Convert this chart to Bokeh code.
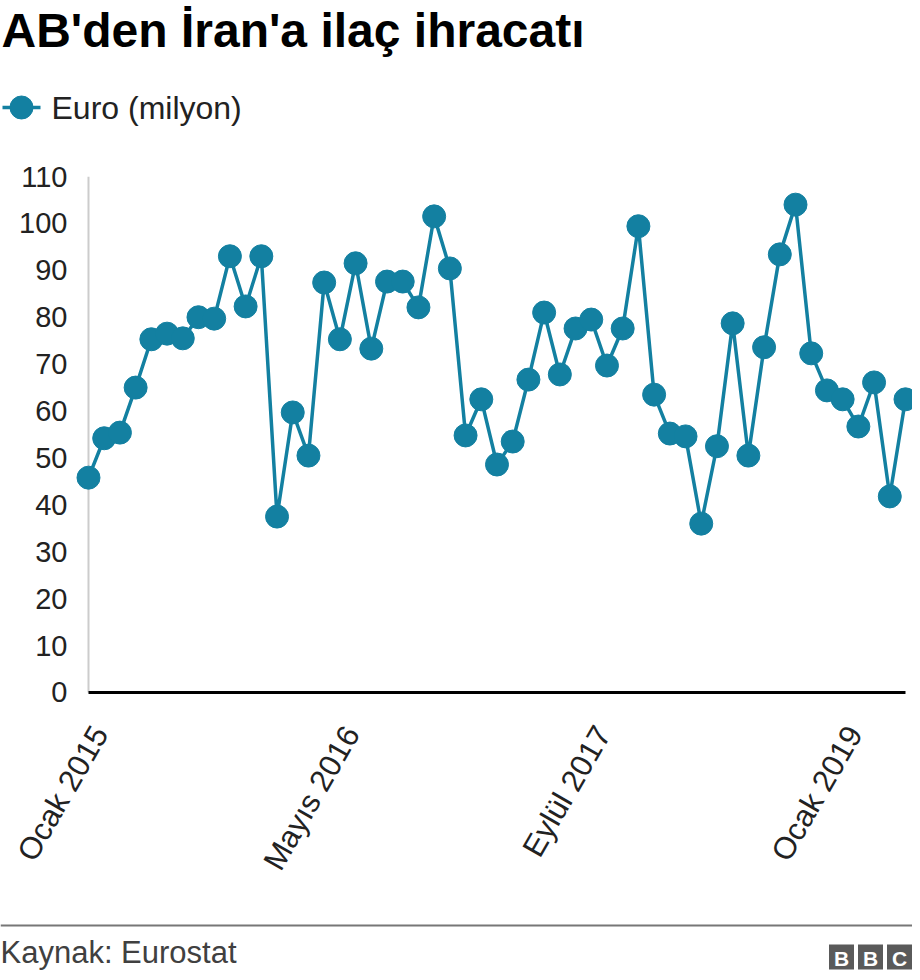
import math
from bokeh.plotting import figure
from bokeh.layouts import column
from bokeh.models import Range1d, FixedTicker, ColumnDataSource, LinearAxis
from bokeh.core.properties import value
from bokeh.embed import file_html
from bokeh.resources import INLINE

# ---------------- data ----------------
title = "AB'den İran'a ilaç ihracatı"
series_name = "Euro (milyon)"
source_text = "Kaynak: Eurostat"

# monthly index: Ocak 2015 ... Mayıs 2019 (53 months)
month_index = list(range(53))
values = [45.8, 54.2, 55.4, 65.0, 75.3, 76.5, 75.5, 80.0, 79.7, 93.0,
          82.3, 93.0, 37.5, 59.7, 50.5, 87.4, 75.3, 91.5, 73.3, 87.6,
          87.6, 82.1, 101.5, 90.4, 54.8, 62.5, 48.6, 53.5, 66.7, 81.0,
          67.8, 77.6, 79.5, 69.7, 77.6, 99.4, 63.5, 55.2, 54.6, 36.0,
          52.5, 78.7, 50.5, 73.6, 93.4, 104.0, 72.3, 64.4, 62.5, 56.7,
          66.1, 41.8, 62.5]
x_tick_positions = [0, 16, 32, 48]
x_tick_labels = ["Ocak 2015", "Mayıs 2016", "Eylül 2017", "Ocak 2019"]
y_ticks = [0, 10, 20, 30, 40, 50, 60, 70, 80, 90, 100, 110]

# ---------------- style ----------------
FONT = value("Liberation Sans")
TEAL = "#1380A1"
W = 912
X0, X1 = -0.891, 52.446
LABEL_SHIFT = 0.75  # rotated labels sit slightly right of their month


def blank(height):
    f = figure(width=W, height=height, x_range=Range1d(0, W), y_range=Range1d(height, 0),
               output_backend="svg", toolbar_location=None, title=None,
               x_axis_type=None, y_axis_type=None, frame_align=False,
               min_border_left=0, min_border_right=0, min_border_top=0, min_border_bottom=0)
    f.grid.visible = False
    f.outline_line_color = None
    return f


# header
header = blank(150)
header.text(x=[1], y=[30], text=[title], text_font=FONT, text_font_size="48px",
            text_font_style="bold", text_color="#000000", text_baseline="middle",
            text_align="left")
header.line(x=[2, 40], y=[107, 107], line_color=TEAL, line_width=3.5)
header.scatter(x=[21], y=[107], size=23, fill_color=TEAL, line_color=TEAL)
header.text(x=[51], y=[107.5], text=[series_name], text_font=FONT, text_font_size="32px",
            text_color="#222222", text_baseline="middle", text_align="left")

# main chart
p = figure(width=W, height=750, x_range=Range1d(X0, X1), y_range=Range1d(-2.1318, 110),
           x_axis_location=None,
           output_backend="svg", toolbar_location=None, title=None, frame_align=False,
           min_border_left=74, min_border_right=0, min_border_top=26, min_border_bottom=198)
p.grid.visible = False
p.outline_line_color = None

p.yaxis.ticker = FixedTicker(ticks=y_ticks)
p.yaxis.axis_line_color = None
p.yaxis.major_tick_line_color = None
p.yaxis.minor_tick_line_color = None
p.yaxis.major_tick_out = 0
p.yaxis.major_tick_in = 0
p.yaxis.major_label_standoff = 7
p.yaxis.major_label_text_font = "Liberation Sans"
p.yaxis.major_label_text_font_size = "29px"
p.yaxis.major_label_text_color = "#222222"

p.extra_x_ranges = {"lbl": Range1d(X0 - LABEL_SHIFT, X1 - LABEL_SHIFT)}
xaxis = LinearAxis(x_range_name="lbl", ticker=FixedTicker(ticks=x_tick_positions))
xaxis.major_label_overrides = {pos: lbl for pos, lbl in zip(x_tick_positions, x_tick_labels)}
xaxis.axis_line_color = None
xaxis.major_tick_line_color = None
xaxis.minor_tick_line_color = None
xaxis.major_tick_out = 0
xaxis.major_tick_in = 0
xaxis.major_label_standoff = 26
xaxis.major_label_orientation = math.radians(60)
xaxis.major_label_text_font = "Liberation Sans"
xaxis.major_label_text_font_size = "31px"
xaxis.major_label_text_color = "#222222"
p.add_layout(xaxis, "below")

# axis lines
p.segment(x0=[0], y0=[0], x1=[0], y1=[110], line_color="#cccccc", line_width=2)
p.segment(x0=[0], y0=[0], x1=[52], y1=[0], line_color="#000000", line_width=3)

src = ColumnDataSource(dict(x=month_index, y=values))
p.line("x", "y", source=src, line_color=TEAL, line_width=3.5)
p.scatter("x", "y", source=src, size=23, fill_color=TEAL, line_color=TEAL)

# footer
footer = blank(72)
footer.segment(x0=[0], y0=[25], x1=[W], y1=[25], line_color="#777777", line_width=2)
footer.text(x=[0], y=[52], text=[source_text], text_font=FONT, text_font_size="31px",
            text_color="#404040", text_baseline="middle", text_align="left")
logo_x = [841, 870, 899]
footer.rect(x=logo_x, y=[56.5] * 3, width=25, height=25, fill_color="#5a5a5a", line_color=None)
footer.text(x=logo_x, y=[57.5] * 3, text=["B", "B", "C"], text_font=FONT, text_font_size="21px",
            text_font_style="bold", text_color="#ffffff", text_align="center",
            text_baseline="middle")

layout = column(header, p, footer, spacing=0)
open("out.html", "w").write(file_html(layout, INLINE))
